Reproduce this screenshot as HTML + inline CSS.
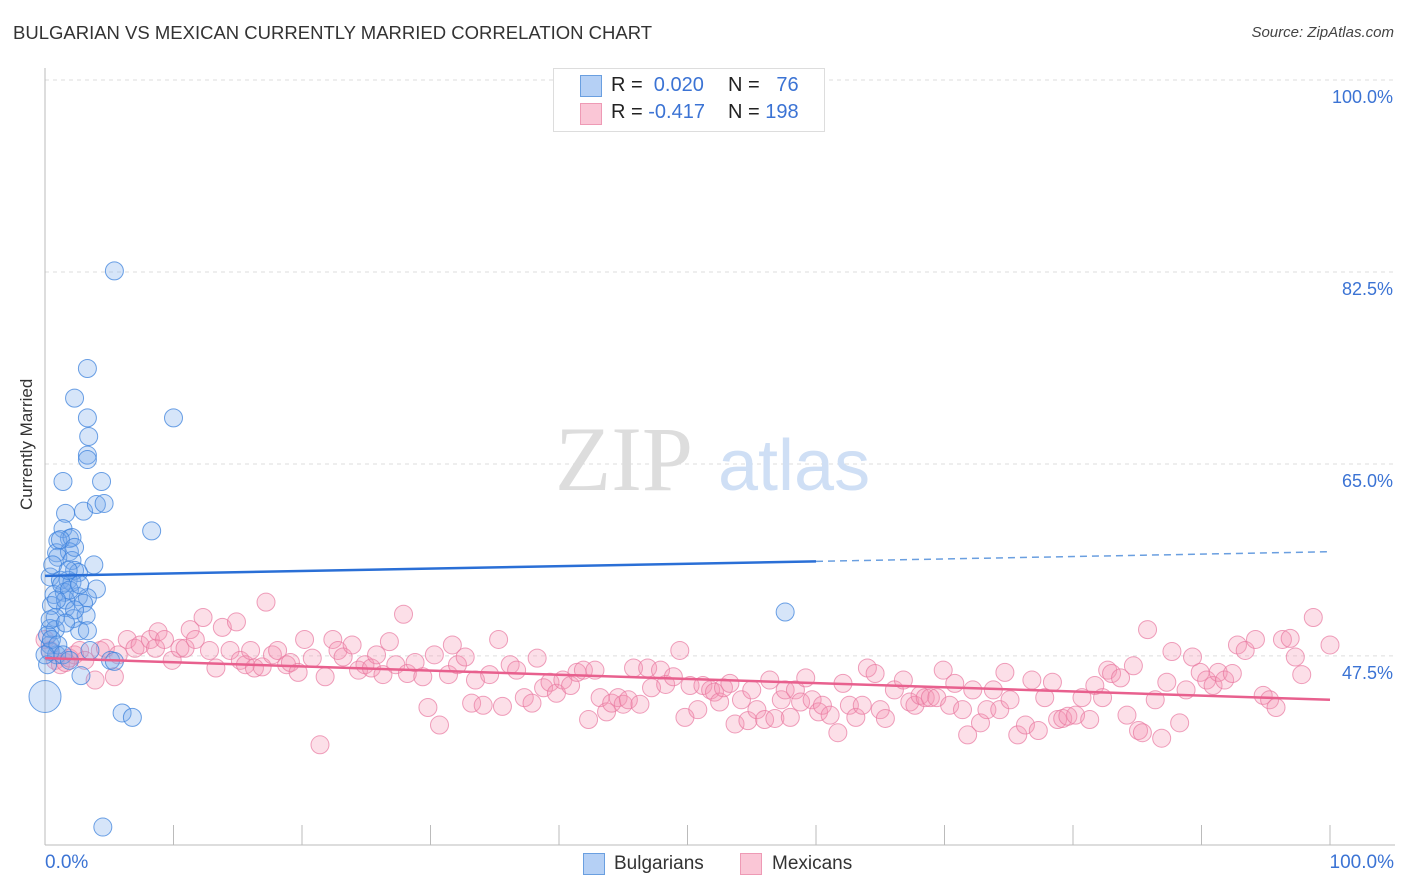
<!DOCTYPE html>
<html><head><meta charset="utf-8"><style>
body{margin:0;background:#fff;font-family:"Liberation Sans",sans-serif;}
#wrap{position:relative;width:1406px;height:892px;overflow:hidden;}
.t{position:absolute;white-space:nowrap;}
</style></head><body>
<div id="wrap">
<div class="t" style="left:13px;top:22px;font-size:18.5px;color:#333;">BULGARIAN VS MEXICAN CURRENTLY MARRIED CORRELATION CHART</div>
<div class="t" style="right:12px;top:24px;font-size:15px;color:#444;font-style:italic;">Source: ZipAtlas.com</div>
<svg id="svg" width="1406" height="892" style="position:absolute;left:0;top:0"></svg>
<div class="t" style="left:-28px;top:445px;font-size:17px;color:#333;transform:rotate(-90deg);transform-origin:center;width:110px;text-align:center;">Currently Married</div>
<div style="position:absolute;left:553px;top:68px;width:270px;height:62px;border:1px solid #ddd;background:#fff;"></div>
<div style="position:absolute;left:580px;top:75px;width:20px;height:20px;background:#b5d0f5;border:1px solid #6a9fe0;"></div>
<div style="position:absolute;left:580px;top:103px;width:20px;height:20px;background:#fac6d6;border:1px solid #ee9ab5;"></div>
<div class="t" style="left:611px;top:74px;font-size:20px;color:#222;">R = <span style="color:#3b73d4">&nbsp;0.020</span></div>
<div class="t" style="left:728px;top:74px;font-size:20px;color:#222;">N = <span style="color:#3b73d4">&nbsp;&nbsp;76</span></div>
<div class="t" style="left:611px;top:101px;font-size:20px;color:#222;">R = <span style="color:#3b73d4">-0.417</span></div>
<div class="t" style="left:728px;top:101px;font-size:20px;color:#222;">N = <span style="color:#3b73d4">198</span></div>
<div style="position:absolute;left:583px;top:853px;width:20px;height:20px;background:#b5d0f5;border:1px solid #6a9fe0;"></div>
<div class="t" style="left:614px;top:853px;font-size:19px;color:#333;">Bulgarians</div>
<div style="position:absolute;left:740px;top:853px;width:20px;height:20px;background:#fac6d6;border:1px solid #ee9ab5;"></div>
<div class="t" style="left:772px;top:853px;font-size:19px;color:#333;">Mexicans</div>
<div class="t" style="left:45px;top:852px;font-size:19px;color:#3b73d4;">0.0%</div>
<div class="t" style="right:12px;top:852px;font-size:19px;color:#3b73d4;">100.0%</div>
</div>
<script>
const yTicks=[100,82.5,65,47.5];
const yTickLabels=["100.0%","82.5%","65.0%","47.5%"];
const xTicks=[0,10,20,30,40,50,60,70,80,90,100];
const blueX=[5.4,3.3,2.3,10.0,3.3,3.4,3.3,3.3,1.4,4.4,1.6,3.0,4.0,4.6,8.3,1.4,1.9,1.0,2.1,0.9,1.9,1.0,2.1,3.8,2.3,2.6,0.4,1.2,1.8,2.1,4.0,0.7,1.5,2.6,3.3,0.5,1.6,3.0,0.8,2.2,3.2,0.4,0.8,2.7,3.3,0.4,0.9,0.4,0.2,2.8,5.1,5.4,6.0,6.8,4.5,0.0,57.6,1.2,2.3,1.6,0.4,1.3,1.9,0.6,1.8,2.7,0.2,0.5,1.0,1.4,1.9,0.9,2.3,3.5,0.0,1.6];
const blueY=[82.6,73.7,71.0,69.2,69.2,67.5,65.8,65.4,63.4,63.4,60.5,60.7,61.3,61.4,58.9,59.1,58.2,58.0,58.3,56.9,57.0,56.5,56.2,55.8,55.3,55.1,54.7,54.4,54.4,54.2,53.6,53.1,53.3,52.9,52.8,52.1,51.9,52.3,51.0,50.9,51.2,50.0,49.9,49.8,49.8,48.5,47.6,47.9,46.7,45.7,47.1,47.0,42.3,41.9,31.9,43.8,51.5,58.1,57.4,52.6,50.8,54.0,53.5,55.8,55.3,54.0,49.4,49.0,48.5,47.6,47.1,52.6,51.7,48.0,47.6,50.5];
const pinkX=[0,0.4,0.8,1.2,1.6,1.9,2.3,2.7,3.1,3.9,4.3,4.7,5.4,5.7,6.4,7.0,7.4,8.2,8.6,8.8,9.3,9.9,10.5,10.9,11.3,11.7,12.3,12.8,13.3,13.8,14.4,14.9,15.2,15.6,16.0,16.3,16.9,17.2,17.7,18.1,18.8,19.1,19.7,20.2,20.8,21.4,21.8,22.4,22.8,23.2,23.9,24.4,24.9,25.4,25.8,26.3,26.8,27.3,27.9,28.2,28.8,29.4,29.8,30.3,30.7,31.4,31.7,32.1,32.7,33.2,33.5,34.1,34.6,35.3,35.6,36.2,36.7,37.3,37.9,38.3,38.8,39.3,39.8,40.3,40.9,41.4,41.9,42.3,42.8,43.2,43.7,44.1,44.6,45.0,45.4,45.8,46.3,46.9,47.2,47.9,48.3,48.9,49.4,49.8,50.2,50.8,51.2,51.8,52.1,52.5,52.8,53.3,53.7,54.2,54.7,55.0,55.4,56.0,56.4,56.8,57.3,57.6,58.0,58.4,58.8,59.2,59.7,60.2,60.5,61.1,61.7,62.1,62.6,63.1,63.6,64.0,64.6,65.0,65.4,66.1,66.8,67.3,67.7,68.1,68.5,68.9,69.4,69.9,70.4,70.8,71.4,71.8,72.2,72.8,73.3,73.8,74.3,74.7,75.1,75.7,76.3,76.8,77.3,77.8,78.4,78.8,79.2,79.6,80.2,80.7,81.3,81.7,82.3,82.7,83.0,83.7,84.2,84.7,85.1,85.4,85.8,86.4,86.9,87.3,87.7,88.3,88.8,89.3,89.9,90.4,90.9,91.3,91.8,92.4,92.8,93.4,94.2,94.8,95.3,95.8,96.3,96.9,97.3,97.8,98.7,100];
const pinkY=[49.0,48.0,47.1,46.7,46.9,47.3,47.6,48.0,47.1,45.3,48.0,48.2,45.6,47.6,49.0,48.2,48.5,49.0,48.2,49.7,49.0,47.1,48.2,48.2,49.9,49.0,51.0,48.0,46.4,50.1,48.0,50.6,47.1,46.7,48.0,46.4,46.5,52.4,47.6,48.0,46.7,46.9,46.0,49.0,47.3,39.4,45.6,49.0,48.0,47.4,48.5,46.2,46.7,46.4,47.6,45.8,48.8,46.7,51.3,45.9,46.9,45.6,42.8,47.6,41.2,45.8,48.5,46.7,47.4,43.2,45.3,43.0,45.8,49.0,42.9,46.7,46.2,43.7,43.2,47.3,44.6,45.1,44.1,45.3,44.8,46.0,46.2,41.7,46.2,43.7,42.4,43.2,43.7,43.1,43.5,46.4,43.1,46.4,44.6,46.2,44.9,45.6,48.0,41.9,44.8,42.6,44.8,44.4,44.2,43.3,44.6,45.0,41.3,43.5,41.6,44.4,42.6,41.7,45.3,41.8,43.5,44.4,41.9,44.4,43.3,45.5,43.5,42.4,43.0,42.1,40.5,45.0,43.0,41.9,43.0,46.4,45.9,42.6,41.8,44.4,45.3,43.3,43.0,43.9,43.7,43.7,43.7,46.2,43.0,45.0,42.6,40.3,44.4,41.4,42.6,44.4,42.6,46.0,43.5,40.3,41.2,45.3,40.7,43.7,45.1,41.7,41.8,42.0,42.1,43.7,41.7,44.8,43.7,46.2,45.9,45.5,42.1,46.6,40.7,40.5,49.9,43.5,40.0,45.1,47.9,41.4,44.4,47.4,46.0,45.3,44.8,46.0,45.3,45.9,48.5,48.0,49.0,43.9,43.5,42.8,49.0,49.1,47.4,45.8,51.0,48.5];
const blueTrend=[54.8,57.0];
const pinkTrend=[47.3,43.5];
const NS="http://www.w3.org/2000/svg";
const svg=document.getElementById('svg');
const X=v=>45+v*12.85;
const Y=v=>80+(100-v)*10.97;
function mk(tag,at){const e=document.createElementNS(NS,tag);for(const k in at)e.setAttribute(k,at[k]);svg.appendChild(e);return e;}
yTicks.forEach((t,i)=>{
 const g=mk('line',{x1:45,x2:1395,y1:Y(t),y2:Y(t),stroke:'#ddd','stroke-dasharray':'4,4'});
 
 
 const tx=mk('text',{x:1393,y:Y(t)+23,'text-anchor':'end','font-size':18,fill:'#3b73d4','font-family':'Liberation Sans, sans-serif'});
 tx.textContent=yTickLabels[i];
 
 
});
const ax=mk('line',{x1:45,x2:45,y1:68,y2:845,stroke:'#bbb'});


const bx=mk('line',{x1:45,x2:1395,y1:845,y2:845,stroke:'#bbb'});


xTicks.forEach(t=>{
 const l=mk('line',{x1:X(t),x2:X(t),y1:825,y2:845,stroke:'#bbb'});
 
 
});
const wm=mk('text',{x:555,y:490,'font-size':92,fill:'#ddd','font-family':'Liberation Serif, serif'});
wm.textContent='ZIP';


const wm2=mk('text',{x:718,y:490,'font-size':72,fill:'#cfdff5','font-family':'Liberation Sans, sans-serif'});
wm2.textContent='atlas';


for(let i=0;i<Math.min(pinkX.length,pinkY.length);i++){
 const c=mk('circle',{cx:X(pinkX[i]),cy:Y(pinkY[i]),r:9,fill:'rgba(244,150,180,0.3)',stroke:'rgba(232,120,160,0.7)','stroke-width':1});
 
 
}
for(let i=0;i<blueX.length;i++){
 const big=(i===55);
 const c=mk('circle',{cx:X(blueX[i]),cy:Y(blueY[i]),r:big?16:9,fill:'rgba(120,170,235,0.3)',stroke:'rgba(60,130,220,0.75)','stroke-width':1});
 
 
}
const bt=v=>blueTrend[0]+(blueTrend[1]-blueTrend[0])*v/100;
const pt=v=>pinkTrend[0]+(pinkTrend[1]-pinkTrend[0])*v/100;
const l1=mk('line',{x1:X(0),y1:Y(bt(0)),x2:X(60),y2:Y(bt(60)),stroke:'#2a6fd6','stroke-width':2.5});


const l2=mk('line',{x1:X(60),y1:Y(bt(60)),x2:X(100),y2:Y(bt(100)),stroke:'#6a9fe0','stroke-width':1.5,'stroke-dasharray':'7,5'});


const l3=mk('line',{x1:X(0),y1:Y(pt(0)),x2:X(100),y2:Y(pt(100)),stroke:'#e8608e','stroke-width':2.5});


</script>
</body></html>
